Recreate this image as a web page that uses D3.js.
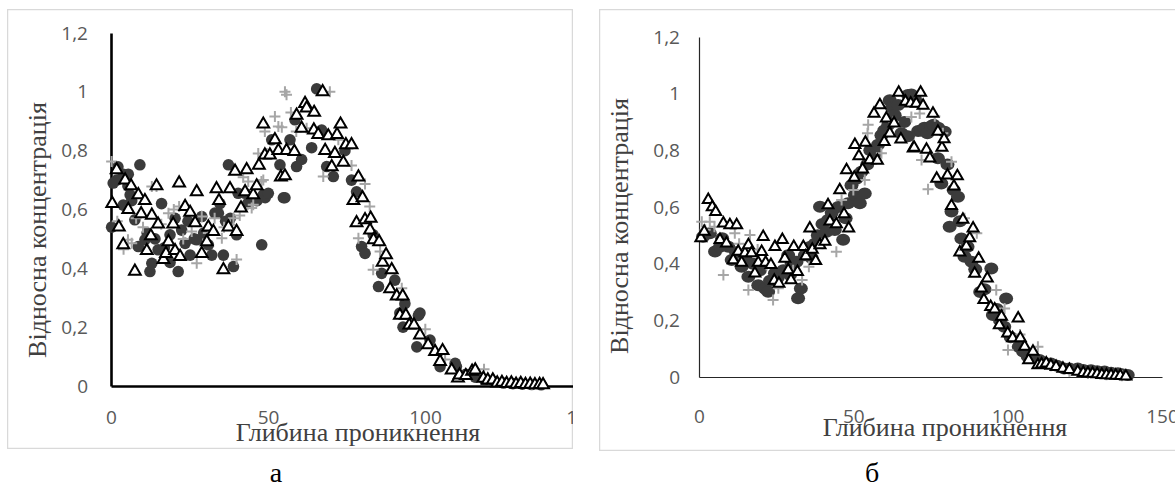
<!DOCTYPE html>
<html>
<head>
<meta charset="utf-8">
<script src="https://cdn.jsdelivr.net/npm/d3@7"></script>
<style>
  body { margin: 0; background: #fff; }
  svg { display: block; }
</style>
</head>
<body>
<div id="chart"></div>
<script>
// ---- data ----
const yTicks = [0, 0.2, 0.4, 0.6, 0.8, 1, 1.2];
const yTickLabels = ["0", "0,2", "0,4", "0,6", "0,8", "1", "1,2"];
const xTicks = [0, 50, 100, 150];
const xTickLabels = ["0", "50", "100", "150"];
const xTitle = "Глибина проникнення";
const yTitle = "Відносна концентрація";
const captions = ["а", "б"];

// panel а
const aCircX = [0.2,0.7,1.8,2.2,3.9,3.9,5.4,5.5,6.1,6.6,7.6,8.7,9.2,10.8,11.5,12.4,13,14,15,16.1,17,18.8,18.8,20.4,21.4,22.5,23.6,24.5,25.2,26.5,27.3,28.9,29.5,31,32.1,33.1,34.2,34.7,35.8,36.5,37.4,38,39,40,40.5,42.7,43.5,45.3,46.5,48,48.5,49.1,50.1,51.2,53.8,54.9,55.4,57,58.6,59.1,60.7,63.9,65.5,67.1,68.7,70.8,74.5,76.6,78.2,79.8,80.9,83.5,85.2,86.2,90.4,92,93,93.6,97.4,97.9,98.4,101.6,104.8,109.6,110,113,116,119,122,125,128,131,134,137];
const aCircY = [0.54,0.69,0.70,0.745,0.615,0.72,0.68,0.72,0.65,0.63,0.565,0.474,0.752,0.497,0.52,0.389,0.417,0.50,0.463,0.62,0.47,0.514,0.42,0.57,0.389,0.53,0.485,0.56,0.445,0.50,0.497,0.576,0.52,0.48,0.445,0.588,0.587,0.62,0.445,0.56,0.752,0.57,0.406,0.514,0.655,0.655,0.62,0.64,0.63,0.48,0.65,0.64,0.655,0.837,0.752,0.64,0.64,0.837,0.905,0.746,0.77,0.81,1.01,0.87,0.746,0.712,0.80,0.70,0.66,0.474,0.451,0.514,0.338,0.383,0.36,0.248,0.20,0.28,0.133,0.24,0.248,0.156,0.066,0.077,0.066,0.04,0.03,0.02,0.015,0.01,0.008,0.006,0.005,0.004];

const aPlusX = [0.2,2,4,5.4,6.6,8,10.2,13,14.5,16,18.3,20,21.7,23,25.7,27.3,28.9,31,33,35.3,36,37.9,39,40,41,42.1,43.7,44.8,45.3,46.9,47.9,48.5,49,49.6,52.2,53.3,54.4,55.4,55.9,57.3,59,62.3,67.6,69.7,72.4,76.6,78.8,80.9,82.4,83.5,85.7,92.6,100.1,106.4,118.8,122,126,130,134];
const aPlusY = [0.763,0.56,0.465,0.497,0.485,0.57,0.54,0.678,0.678,0.55,0.587,0.60,0.61,0.50,0.525,0.417,0.576,0.52,0.57,0.502,0.54,0.548,0.57,0.43,0.58,0.71,0.695,0.605,0.616,0.79,0.695,0.70,0.865,0.79,0.916,0.882,0.88,1.0,0.99,0.93,0.865,0.876,0.712,1.0,0.837,0.75,0.502,0.687,0.61,0.395,0.457,0.332,0.193,0.09,0.057,0.02,0.012,0.01,0.006];

const aTriX = [0.4,1.8,2.5,3.9,4.5,5.5,6.4,7.6,8.7,9.6,10.8,11.4,12.7,13,14.5,15,16.7,17.5,18.3,19.8,20.4,21.7,22,23.6,25.2,26.8,27.3,28.9,30.5,31,32.6,33.6,34.4,35.8,37.4,37.9,39.5,40,41.4,42.7,43.2,45.3,46.4,47.1,48.5,49,50.6,52.2,53.3,54.1,55.4,55.9,58.4,59.1,60.7,61.8,62.3,64.6,64.7,66,67.4,68.2,69.2,70.3,71.3,72,73.1,74,74.8,76.6,77.2,78.2,78.8,80.1,80.9,82.5,82.7,83.6,85.4,86.5,87.6,88.9,89.4,91,92,92.9,93.9,95,96.5,98.4,101,103.2,104.8,105.6,108.5,110.5,111,113,115,116,118.6,120,121.6,123,124.5,126,127.5,129,130.5,132,133.5,135,136.5,137.6];
const aTriY = [0.62,0.735,0.54,0.48,0.70,0.60,0.68,0.39,0.65,0.585,0.63,0.46,0.51,0.58,0.68,0.55,0.43,0.45,0.49,0.55,0.46,0.69,0.44,0.61,0.59,0.555,0.66,0.45,0.49,0.54,0.525,0.67,0.63,0.395,0.54,0.67,0.73,0.525,0.605,0.66,0.735,0.65,0.68,0.75,0.89,0.785,0.785,0.837,0.80,0.71,0.714,0.80,0.797,0.92,0.876,0.96,0.945,0.87,0.93,0.855,1.0,0.80,0.85,0.745,0.79,0.855,0.89,0.76,0.82,0.82,0.63,0.555,0.71,0.64,0.565,0.53,0.57,0.497,0.49,0.42,0.446,0.33,0.395,0.306,0.24,0.306,0.24,0.207,0.207,0.173,0.14,0.117,0.083,0.12,0.054,0.027,0.037,0.035,0.05,0.054,0.026,0.02,0.02,0.01,0.012,0.008,0.01,0.006,0.008,0.005,0.006,0.004,0.005,0.004];

// panel б
const bCircX = [1.3,3.5,5.2,6.8,7.5,9.5,10.6,12,13.8,15,16,17.5,19.2,19.7,21.4,22.4,23,24.6,25.5,27.3,28.9,29.5,30,31.6,32.1,33,34.3,35.9,36.5,37.5,38.5,39.2,40,41.3,41.8,43,44,45.1,46.7,47.5,48.3,49.4,50.5,51,52.1,52.6,53.7,54.5,55.5,57,58,59.1,60,61.3,61.8,62.5,63.4,64.5,65.6,66.5,67.7,67.7,68.8,70,71,72,73,74,75.3,76,77.4,77.5,78.5,79.6,80.5,81.2,81.8,82.5,83.9,84.5,85,86,87,88.3,89.5,91.1,92.5,94.7,95.2,96.5,97.5,98.9,99.5,101,103.6,105,106.5,108,110.3,112,114,116,118.3,120,122.7,124.5,127,129,131.4,133.5,135.7,137,138.9];
const bCircY = [0.495,0.507,0.443,0.46,0.49,0.46,0.413,0.44,0.389,0.42,0.354,0.40,0.324,0.377,0.312,0.301,0.34,0.366,0.35,0.377,0.43,0.36,0.40,0.407,0.278,0.312,0.43,0.459,0.42,0.47,0.50,0.601,0.54,0.513,0.554,0.58,0.519,0.60,0.484,0.56,0.613,0.677,0.642,0.70,0.613,0.724,0.648,0.75,0.80,0.789,0.82,0.853,0.87,0.889,0.977,0.95,0.924,0.96,0.86,0.90,0.995,0.85,0.997,0.98,0.868,0.87,0.88,0.86,0.886,0.89,0.772,0.88,0.683,0.866,0.75,0.53,0.584,0.66,0.636,0.55,0.489,0.424,0.46,0.407,0.38,0.30,0.31,0.383,0.219,0.24,0.20,0.177,0.277,0.14,0.107,0.09,0.072,0.07,0.06,0.05,0.048,0.04,0.03,0.03,0.03,0.025,0.024,0.02,0.019,0.015,0.013,0.01,0.007];

const bPlusX = [0.9,2,3.5,5,7.9,11.6,13,16,16.5,19,21.9,24,25.7,30.5,33.4,35.6,40,44.5,46.2,50,53.7,54.6,54.8,59.1,63,68.8,71.5,72.1,74.2,76.4,79,81.8,86,90,96.3,99,100.1,104,109.8,114,120,126,132,137];
const bPlusY = [0.548,0.52,0.548,0.53,0.36,0.507,0.47,0.307,0.501,0.45,0.395,0.272,0.313,0.377,0.342,0.389,0.47,0.442,0.625,0.66,0.695,0.86,0.89,0.79,0.90,0.918,0.93,0.766,0.663,0.92,0.86,0.76,0.56,0.507,0.307,0.242,0.095,0.15,0.107,0.04,0.02,0.012,0.008,0.004];

const bTriX = [0.6,1.7,3,4.3,5.4,6.8,7.9,8.9,10,11.1,12.2,12.7,13.8,14.9,16,17,18.1,19.2,20.3,20.8,21.6,23.3,24.4,24.6,25.9,27,27.8,28.9,29.8,30.7,31.9,33.8,34.6,35.9,36.7,37.8,39.2,40.8,41.8,42.4,44.5,45.6,47,47.8,48.5,50.3,50.5,51.8,53,53.9,55.3,56.7,57.8,58.6,60,60.7,61.8,63.2,64.7,65.4,66.9,68.6,69.4,69.7,70.4,71.8,72.6,73.7,74.8,75.8,77,77.4,78.7,79.4,80.5,81.8,82.6,83.7,84.5,85.5,86.6,87.7,88.8,89.3,90.6,91.5,92.3,93.4,94.5,95.8,97.3,98,100,101.6,103.4,104.1,105.5,106.8,108.2,109.8,111,112.5,114,115.7,117.9,120,122.7,124.5,126,127.5,129,130.5,132,133.5,135,136.5,138.3];
const bTriY = [0.49,0.513,0.625,0.60,0.583,0.484,0.542,0.472,0.536,0.413,0.536,0.443,0.404,0.437,0.466,0.437,0.366,0.404,0.442,0.495,0.404,0.396,0.34,0.459,0.33,0.484,0.418,0.377,0.342,0.459,0.371,0.459,0.427,0.525,0.45,0.41,0.466,0.478,0.607,0.549,0.54,0.66,0.575,0.73,0.525,0.704,0.819,0.78,0.733,0.827,0.766,0.93,0.764,0.96,0.83,0.913,0.86,0.895,1.004,0.839,0.972,0.966,0.807,0.81,0.965,1.004,0.958,0.803,0.772,0.93,0.70,0.866,0.81,0.84,0.712,0.604,0.673,0.709,0.44,0.556,0.461,0.49,0.525,0.365,0.418,0.313,0.272,0.348,0.248,0.239,0.183,0.213,0.154,0.137,0.207,0.137,0.107,0.06,0.09,0.042,0.045,0.048,0.04,0.036,0.03,0.025,0.019,0.015,0.013,0.012,0.01,0.008,0.007,0.006,0.005,0.004,0.002];

// ---- drawing ----
const svg = d3.select("#chart")
  .append("svg")
  .attr("width", 1175)
  .attr("height", 491);

const defs = svg.append("defs");

function drawPanel(p) {
  let x = d3.scaleLinear().domain([0, 150]).range([p.x0, p.x150]);
  let y = d3.scaleLinear().domain([0, 1.2]).range([p.y0, p.y12]);

  defs.append("clipPath").attr("id", p.id + "clip")
    .append("rect")
    .attr("x", p.frame[0]).attr("y", p.frame[1])
    .attr("width", p.frame[2]).attr("height", p.frame[3]);

  let g = svg.append("g").attr("clip-path", `url(#${p.id}clip)`);

  // outer frame
  g.append("rect")
    .attr("x", p.frame[0] + 0.5).attr("y", p.frame[1] + 0.5)
    .attr("width", p.frame[2] - 1).attr("height", p.frame[3] - 1)
    .attr("fill", "none")
    .attr("stroke", "#d9d9d9")
    .attr("stroke-width", 1.5);

  // axes
  let yAxis = d3.axisLeft(y)
    .tickValues(yTicks)
    .tickFormat((d, i) => yTickLabels[i])
    .tickSize(0)
    .tickPadding(p.yPad);
  let xAxis = d3.axisBottom(x)
    .tickValues(xTicks)
    .tickFormat((d, i) => xTickLabels[i])
    .tickSize(0)
    .tickPadding(p.xPad);

  let gy = g.append("g").attr("transform", `translate(${p.x0},0)`).call(yAxis);
  let gx = g.append("g").attr("transform", `translate(0,${p.y0})`).call(xAxis);

  [gx, gy].forEach(a => {
    a.select(".domain")
      .attr("stroke", p.axisColor)
      .attr("stroke-width", p.axisWidth);
    a.selectAll("text")
      .attr("fill", "#595959")
      .style("font-family", "'Open Sans', 'Noto Sans', sans-serif")
      .style("font-size", "19px");
  });

  // markers: circles, then crosses, then triangles
  let circ = d3.zip(p.circX, p.circY);
  g.append("g").selectAll("ellipse")
    .data(circ)
    .enter()
    .append("ellipse")
    .attr("cx", d => x(d[0]))
    .attr("cy", d => y(d[1]))
    .attr("rx", p.crx)
    .attr("ry", p.cry)
    .attr("fill", "#3b3b3b");

  let plus = d3.zip(p.plusX, p.plusY);
  g.append("g").selectAll("path")
    .data(plus)
    .enter()
    .append("path")
    .attr("transform", d => `translate(${x(d[0])},${y(d[1])})`)
    .attr("d", "M-5.5,0H5.5M0,-5.5V5.5")
    .attr("stroke", "#a6a6a6")
    .attr("stroke-width", 2)
    .attr("fill", "none");

  let tri = d3.zip(p.triX, p.triY);
  g.append("g").selectAll("path")
    .data(tri)
    .enter()
    .append("path")
    .attr("transform", d => `translate(${x(d[0])},${y(d[1])})`)
    .attr("d", d3.symbol().type(d3.symbolTriangle).size(p.triSize))
    .attr("fill", "#fff")
    .attr("stroke", "#000")
    .attr("stroke-width", p.triStroke);

  // titles
  g.append("text")
    .attr("x", p.xTitle[0]).attr("y", p.xTitle[1])
    .attr("text-anchor", "middle")
    .attr("fill", "#404040")
    .style("font-family", "'Liberation Serif', 'Times New Roman', serif")
    .style("font-size", "26px")
    .text(xTitle);

  g.append("text")
    .attr("transform", `translate(${p.yTitle[0]},${p.yTitle[1]}) rotate(-90)`)
    .attr("text-anchor", "middle")
    .attr("fill", "#404040")
    .style("font-family", "'Liberation Serif', 'Times New Roman', serif")
    .style("font-size", "26px")
    .text(yTitle);

  // caption under the panel
  svg.append("text")
    .attr("x", p.caption[0]).attr("y", p.caption[1])
    .attr("text-anchor", "middle")
    .attr("fill", "#000")
    .style("font-family", "'Liberation Serif', 'Times New Roman', serif")
    .style("font-size", "28px")
    .text(p.captionText);
}

drawPanel({
  id: "a",
  frame: [7, 9, 566, 440],
  x0: 111, x150: 582, y0: 386, y12: 33,
  yPad: 23, xPad: 25,
  axisColor: "#000", axisWidth: 2.6,
  circX: aCircX, circY: aCircY, crx: 5.8, cry: 5.8,
  plusX: aPlusX, plusY: aPlusY,
  triX: aTriX, triY: aTriY, triSize: 60, triStroke: 2,
  xTitle: [358, 441], yTitle: [46, 230],
  caption: [276, 482], captionText: captions[0]
});

drawPanel({
  id: "b",
  frame: [599, 9, 590, 442],
  x0: 699, x150: 1162, y0: 377, y12: 37,
  yPad: 19, xPad: 33,
  axisColor: "#262626", axisWidth: 1.2,
  circX: bCircX, circY: bCircY, crx: 7, cry: 6,
  plusX: bPlusX, plusY: bPlusY,
  triX: bTriX, triY: bTriY, triSize: 52, triStroke: 2,
  xTitle: [945, 436], yTitle: [628, 226],
  caption: [872, 482], captionText: captions[1]
});
</script>
</body>
</html>
